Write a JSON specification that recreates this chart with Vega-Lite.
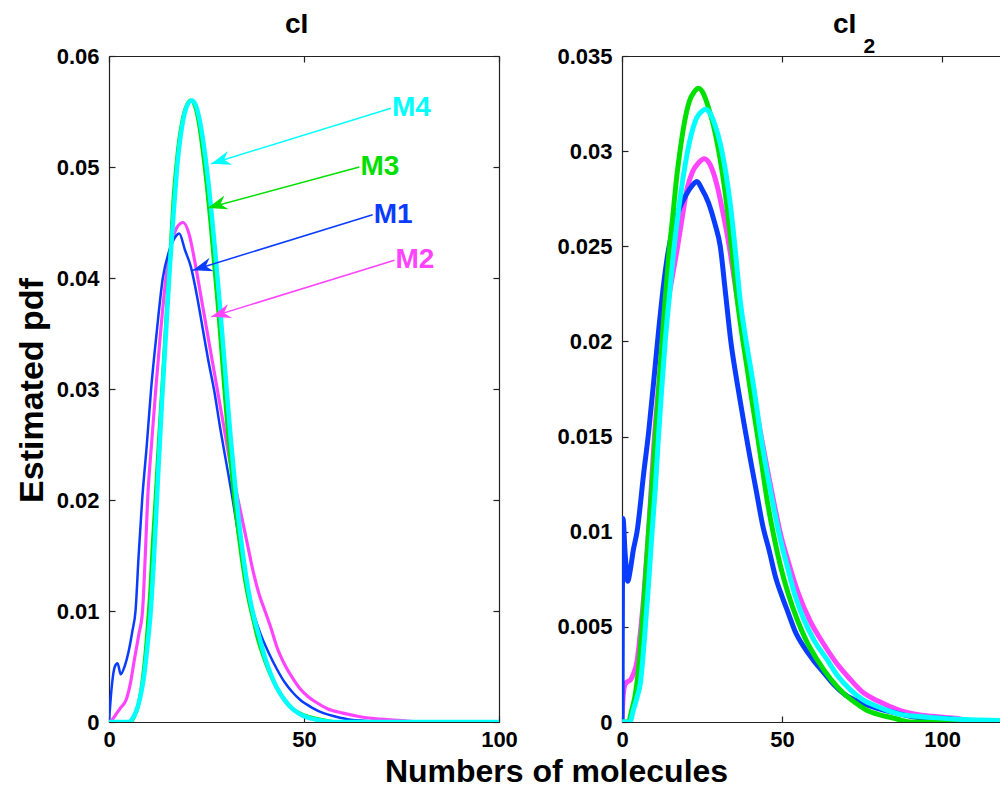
{
  "$schema": "https://vega.github.io/schema/vega-lite/v6.json",
  "background": "white",
  "padding": {"left": 15, "top": 11, "right": 0, "bottom": 0},
  "bounds": "flush",
  "spacing": 123,
  "config": {
    "font": "Liberation Sans",
    "view": {"stroke": null},
    "axis": {"domainColor": "#222", "domainWidth": 1.2, "tickColor": "#222", "tickWidth": 1.2, "tickSize": -6, "labelFont": "Liberation Sans", "labelFontSize": 22, "labelFontWeight": "bold", "labelColor": "#000", "labelPadding": 16, "labelOverlap": false, "labelFlush": false, "grid": false, "titleFont": "Liberation Sans", "titleFontSize": 32, "titleFontWeight": "bold", "titleColor": "#000"},
    "axisBottom": {"labelPadding": 13},
    "title": {"font": "Liberation Sans", "fontSize": 28, "fontWeight": "bold", "color": "#000"}
  },
  "datasets": {
    "cI": [
      {"model":"M2","x":0,"y":0},{"model":"M2","x":1,"y":0.0003},{"model":"M2","x":2,"y":0.0008},{"model":"M2","x":3,"y":0.0013},{"model":"M2","x":4.4,"y":0.002},{"model":"M2","x":5.5,"y":0.0035},{"model":"M2","x":6.5,"y":0.0056},{"model":"M2","x":7.6,"y":0.0078},{"model":"M2","x":8.6,"y":0.01},{"model":"M2","x":9.3,"y":0.015},{"model":"M2","x":9.9,"y":0.02},{"model":"M2","x":10.9,"y":0.025},{"model":"M2","x":12,"y":0.03},{"model":"M2","x":13.2,"y":0.035},{"model":"M2","x":14.6,"y":0.04},{"model":"M2","x":16,"y":0.043},{"model":"M2","x":17.5,"y":0.0446},{"model":"M2","x":19,"y":0.045},{"model":"M2","x":20.5,"y":0.044},{"model":"M2","x":22,"y":0.0415},{"model":"M2","x":23.5,"y":0.0385},{"model":"M2","x":25,"y":0.0355},{"model":"M2","x":26.5,"y":0.0325},{"model":"M2","x":28,"y":0.0295},{"model":"M2","x":29.5,"y":0.0265},{"model":"M2","x":31,"y":0.0235},{"model":"M2","x":32.5,"y":0.021},{"model":"M2","x":34,"y":0.0185},{"model":"M2","x":35.5,"y":0.016},{"model":"M2","x":37,"y":0.0135},{"model":"M2","x":38.5,"y":0.0115},{"model":"M2","x":40,"y":0.01},{"model":"M2","x":41.5,"y":0.0085},{"model":"M2","x":43,"y":0.0068},{"model":"M2","x":45,"y":0.0052},{"model":"M2","x":47,"y":0.004},{"model":"M2","x":49,"y":0.003},{"model":"M2","x":51,"y":0.0023},{"model":"M2","x":53,"y":0.0018},{"model":"M2","x":56,"y":0.0012},{"model":"M2","x":60,"y":0.0008},{"model":"M2","x":64,"y":0.0005},{"model":"M2","x":68,"y":0.0003},{"model":"M2","x":72,"y":0.0002},{"model":"M2","x":76,"y":0.0001},{"model":"M2","x":80,"y":0},{"model":"M2","x":100,"y":0},
      {"model":"M1","x":0,"y":0},{"model":"M1","x":0.3,"y":0.0015},{"model":"M1","x":0.8,"y":0.0035},{"model":"M1","x":1.5,"y":0.005},{"model":"M1","x":2.2,"y":0.0053},{"model":"M1","x":3,"y":0.0043},{"model":"M1","x":4,"y":0.005},{"model":"M1","x":5,"y":0.0063},{"model":"M1","x":6,"y":0.0082},{"model":"M1","x":6.8,"y":0.01},{"model":"M1","x":7.6,"y":0.015},{"model":"M1","x":8.5,"y":0.02},{"model":"M1","x":9.7,"y":0.025},{"model":"M1","x":10.8,"y":0.03},{"model":"M1","x":12.2,"y":0.035},{"model":"M1","x":13.8,"y":0.04},{"model":"M1","x":15.5,"y":0.0425},{"model":"M1","x":17,"y":0.0437},{"model":"M1","x":18,"y":0.044},{"model":"M1","x":19.5,"y":0.0425},{"model":"M1","x":21,"y":0.041},{"model":"M1","x":22.5,"y":0.0385},{"model":"M1","x":24,"y":0.0355},{"model":"M1","x":25.5,"y":0.0325},{"model":"M1","x":27,"y":0.0298},{"model":"M1","x":28.5,"y":0.0265},{"model":"M1","x":30,"y":0.0235},{"model":"M1","x":31.5,"y":0.0205},{"model":"M1","x":33,"y":0.0172},{"model":"M1","x":34.5,"y":0.014},{"model":"M1","x":36,"y":0.0112},{"model":"M1","x":37.5,"y":0.0093},{"model":"M1","x":39,"y":0.0078},{"model":"M1","x":41,"y":0.0062},{"model":"M1","x":43,"y":0.0048},{"model":"M1","x":45,"y":0.0036},{"model":"M1","x":47,"y":0.0027},{"model":"M1","x":49,"y":0.002},{"model":"M1","x":52,"y":0.0013},{"model":"M1","x":55,"y":0.0008},{"model":"M1","x":58,"y":0.0005},{"model":"M1","x":62,"y":0.0002},{"model":"M1","x":66,"y":0.0001},{"model":"M1","x":70,"y":0},{"model":"M1","x":100,"y":0},
      {"model":"M3","x":0,"y":0},{"model":"M3","x":5.5,"y":0},{"model":"M3","x":6.5,"y":0.0005},{"model":"M3","x":7.5,"y":0.0015},{"model":"M3","x":8.5,"y":0.0035},{"model":"M3","x":9.3,"y":0.006},{"model":"M3","x":10,"y":0.009},{"model":"M3","x":10.6,"y":0.012},{"model":"M3","x":11.2,"y":0.016},{"model":"M3","x":11.9,"y":0.02},{"model":"M3","x":12.9,"y":0.026},{"model":"M3","x":13.8,"y":0.031},{"model":"M3","x":14.8,"y":0.037},{"model":"M3","x":15.7,"y":0.042},{"model":"M3","x":16.5,"y":0.047},{"model":"M3","x":17.5,"y":0.051},{"model":"M3","x":18.7,"y":0.054},{"model":"M3","x":20,"y":0.0556},{"model":"M3","x":21,"y":0.056},{"model":"M3","x":22,"y":0.0555},{"model":"M3","x":23,"y":0.054},{"model":"M3","x":24,"y":0.0515},{"model":"M3","x":25,"y":0.0485},{"model":"M3","x":26,"y":0.045},{"model":"M3","x":27,"y":0.041},{"model":"M3","x":28,"y":0.037},{"model":"M3","x":29,"y":0.0325},{"model":"M3","x":30,"y":0.028},{"model":"M3","x":31,"y":0.024},{"model":"M3","x":32,"y":0.0205},{"model":"M3","x":33,"y":0.0175},{"model":"M3","x":34,"y":0.0148},{"model":"M3","x":35,"y":0.0125},{"model":"M3","x":36,"y":0.0107},{"model":"M3","x":37,"y":0.0092},{"model":"M3","x":38,"y":0.0077},{"model":"M3","x":39.5,"y":0.006},{"model":"M3","x":41,"y":0.0046},{"model":"M3","x":43,"y":0.0031},{"model":"M3","x":45,"y":0.002},{"model":"M3","x":47,"y":0.0012},{"model":"M3","x":50,"y":0.0006},{"model":"M3","x":53,"y":0.0003},{"model":"M3","x":56,"y":0.0001},{"model":"M3","x":58,"y":0},{"model":"M3","x":100,"y":0},
      {"model":"M4","x":0,"y":0},{"model":"M4","x":5,"y":0},{"model":"M4","x":6,"y":0.0003},{"model":"M4","x":7,"y":0.001},{"model":"M4","x":8,"y":0.0022},{"model":"M4","x":9,"y":0.0042},{"model":"M4","x":9.9,"y":0.007},{"model":"M4","x":10.7,"y":0.01},{"model":"M4","x":11.4,"y":0.014},{"model":"M4","x":12,"y":0.018},{"model":"M4","x":12.7,"y":0.023},{"model":"M4","x":13.6,"y":0.029},{"model":"M4","x":14.6,"y":0.035},{"model":"M4","x":15.6,"y":0.041},{"model":"M4","x":16.6,"y":0.046},{"model":"M4","x":17.6,"y":0.0505},{"model":"M4","x":18.8,"y":0.0538},{"model":"M4","x":20,"y":0.0555},{"model":"M4","x":21.2,"y":0.056},{"model":"M4","x":22.2,"y":0.0556},{"model":"M4","x":23.2,"y":0.0543},{"model":"M4","x":24.2,"y":0.0522},{"model":"M4","x":25.2,"y":0.0495},{"model":"M4","x":26.2,"y":0.0462},{"model":"M4","x":27.2,"y":0.0425},{"model":"M4","x":28.2,"y":0.0385},{"model":"M4","x":29.2,"y":0.0342},{"model":"M4","x":30.2,"y":0.0298},{"model":"M4","x":31.2,"y":0.0256},{"model":"M4","x":32.2,"y":0.0218},{"model":"M4","x":33.2,"y":0.0184},{"model":"M4","x":34.2,"y":0.0155},{"model":"M4","x":35.2,"y":0.013},{"model":"M4","x":36.2,"y":0.011},{"model":"M4","x":37.2,"y":0.0094},{"model":"M4","x":38.5,"y":0.0077},{"model":"M4","x":40,"y":0.0058},{"model":"M4","x":41.5,"y":0.0043},{"model":"M4","x":43,"y":0.0031},{"model":"M4","x":45,"y":0.002},{"model":"M4","x":47,"y":0.0012},{"model":"M4","x":49,"y":0.0007},{"model":"M4","x":52,"y":0.0003},{"model":"M4","x":55,"y":0.0001},{"model":"M4","x":58,"y":0},{"model":"M4","x":100,"y":0}
    ],
    "cI2": [
      {"model":"M2","x":0,"y":0},{"model":"M2","x":0.3,"y":0.0012},{"model":"M2","x":0.8,"y":0.0019},{"model":"M2","x":1.5,"y":0.0021},{"model":"M2","x":2.6,"y":0.0022},{"model":"M2","x":3.5,"y":0.0025},{"model":"M2","x":4.7,"y":0.0032},{"model":"M2","x":5.8,"y":0.0048},{"model":"M2","x":6.75,"y":0.0065},{"model":"M2","x":7.5,"y":0.0082},{"model":"M2","x":8.3,"y":0.01},{"model":"M2","x":9.1,"y":0.0122},{"model":"M2","x":9.9,"y":0.0144},{"model":"M2","x":11,"y":0.0168},{"model":"M2","x":12.3,"y":0.0192},{"model":"M2","x":13.7,"y":0.0213},{"model":"M2","x":15.3,"y":0.023},{"model":"M2","x":17.2,"y":0.0248},{"model":"M2","x":18.8,"y":0.0265},{"model":"M2","x":20.3,"y":0.028},{"model":"M2","x":22,"y":0.0289},{"model":"M2","x":24,"y":0.0294},{"model":"M2","x":25.7,"y":0.0296},{"model":"M2","x":27.5,"y":0.0293},{"model":"M2","x":29.7,"y":0.0282},{"model":"M2","x":31.5,"y":0.0268},{"model":"M2","x":33.5,"y":0.025},{"model":"M2","x":35.5,"y":0.0228},{"model":"M2","x":37.5,"y":0.0207},{"model":"M2","x":39.5,"y":0.0188},{"model":"M2","x":41.5,"y":0.0169},{"model":"M2","x":43.5,"y":0.015},{"model":"M2","x":45.5,"y":0.0132},{"model":"M2","x":47.5,"y":0.0115},{"model":"M2","x":49.5,"y":0.0099},{"model":"M2","x":52,"y":0.0084},{"model":"M2","x":55,"y":0.0068},{"model":"M2","x":58.8,"y":0.0053},{"model":"M2","x":63,"y":0.0041},{"model":"M2","x":67,"y":0.0031},{"model":"M2","x":71,"y":0.0023},{"model":"M2","x":75,"y":0.0016},{"model":"M2","x":80,"y":0.0011},{"model":"M2","x":87,"y":0.0006},{"model":"M2","x":92,"y":0.0004},{"model":"M2","x":97,"y":0.0003},{"model":"M2","x":102,"y":0.00022},{"model":"M2","x":105,"y":0.00018},{"model":"M2","x":108,"y":0},
      {"model":"M1","x":0,"y":0},{"model":"M1","x":0.3,"y":0.0107},{"model":"M1","x":1,"y":0.0088},{"model":"M1","x":1.8,"y":0.0074},{"model":"M1","x":2.6,"y":0.008},{"model":"M1","x":3.5,"y":0.009},{"model":"M1","x":4.7,"y":0.01},{"model":"M1","x":6.8,"y":0.0131},{"model":"M1","x":8.3,"y":0.0152},{"model":"M1","x":9.9,"y":0.0179},{"model":"M1","x":11.4,"y":0.0205},{"model":"M1","x":13,"y":0.023},{"model":"M1","x":14.5,"y":0.0248},{"model":"M1","x":16,"y":0.026},{"model":"M1","x":18,"y":0.027},{"model":"M1","x":20,"y":0.0277},{"model":"M1","x":22,"y":0.0282},{"model":"M1","x":23.4,"y":0.0284},{"model":"M1","x":25,"y":0.028},{"model":"M1","x":27,"y":0.0273},{"model":"M1","x":29,"y":0.0262},{"model":"M1","x":30.7,"y":0.025},{"model":"M1","x":32.3,"y":0.0226},{"model":"M1","x":34,"y":0.02},{"model":"M1","x":36,"y":0.0178},{"model":"M1","x":38,"y":0.0158},{"model":"M1","x":40,"y":0.0139},{"model":"M1","x":42,"y":0.0121},{"model":"M1","x":44,"y":0.0103},{"model":"M1","x":46,"y":0.009},{"model":"M1","x":48,"y":0.0076},{"model":"M1","x":50,"y":0.0066},{"model":"M1","x":52,"y":0.0057},{"model":"M1","x":54,"y":0.0048},{"model":"M1","x":57,"y":0.0039},{"model":"M1","x":60,"y":0.0032},{"model":"M1","x":63,"y":0.0026},{"model":"M1","x":66,"y":0.002},{"model":"M1","x":70,"y":0.0014},{"model":"M1","x":75,"y":0.001},{"model":"M1","x":80,"y":0.0007},{"model":"M1","x":85,"y":0.0005},{"model":"M1","x":90,"y":0.0003},{"model":"M1","x":95,"y":0.0002},{"model":"M1","x":100,"y":0.0002},{"model":"M1","x":105,"y":0.0001},{"model":"M1","x":107,"y":0},
      {"model":"M3","x":0,"y":0},{"model":"M3","x":2,"y":0},{"model":"M3","x":3,"y":0.0006},{"model":"M3","x":4,"y":0.0013},{"model":"M3","x":4.7,"y":0.0021},{"model":"M3","x":5.5,"y":0.0034},{"model":"M3","x":6.25,"y":0.005},{"model":"M3","x":7.3,"y":0.0075},{"model":"M3","x":8.3,"y":0.01},{"model":"M3","x":9.4,"y":0.0125},{"model":"M3","x":10.4,"y":0.015},{"model":"M3","x":11.5,"y":0.0175},{"model":"M3","x":12.5,"y":0.02},{"model":"M3","x":13.5,"y":0.0222},{"model":"M3","x":14.6,"y":0.0245},{"model":"M3","x":16,"y":0.0268},{"model":"M3","x":17,"y":0.0285},{"model":"M3","x":18.2,"y":0.0301},{"model":"M3","x":19.5,"y":0.0315},{"model":"M3","x":21,"y":0.0326},{"model":"M3","x":22.5,"y":0.0331},{"model":"M3","x":23.9,"y":0.0333},{"model":"M3","x":25.5,"y":0.033},{"model":"M3","x":27,"y":0.0323},{"model":"M3","x":28.5,"y":0.0314},{"model":"M3","x":30,"y":0.0302},{"model":"M3","x":31.5,"y":0.0287},{"model":"M3","x":33,"y":0.0268},{"model":"M3","x":34.5,"y":0.0245},{"model":"M3","x":36,"y":0.0222},{"model":"M3","x":37.8,"y":0.02},{"model":"M3","x":39,"y":0.0187},{"model":"M3","x":40.5,"y":0.017},{"model":"M3","x":42.2,"y":0.0152},{"model":"M3","x":43.8,"y":0.0134},{"model":"M3","x":45.3,"y":0.0117},{"model":"M3","x":47.4,"y":0.0098},{"model":"M3","x":49.5,"y":0.0082},{"model":"M3","x":52,"y":0.0067},{"model":"M3","x":54.7,"y":0.0054},{"model":"M3","x":57.5,"y":0.0043},{"model":"M3","x":60.9,"y":0.0033},{"model":"M3","x":65,"y":0.0023},{"model":"M3","x":69.3,"y":0.0015},{"model":"M3","x":73,"y":0.001},{"model":"M3","x":76.6,"y":0.0006},{"model":"M3","x":80,"y":0.0004},{"model":"M3","x":85,"y":0.0002},{"model":"M3","x":90,"y":0},{"model":"M3","x":120,"y":0},
      {"model":"M4","x":0,"y":0},{"model":"M4","x":2.5,"y":0},{"model":"M4","x":3.5,"y":0.0006},{"model":"M4","x":4.7,"y":0.0013},{"model":"M4","x":5.7,"y":0.002},{"model":"M4","x":6.5,"y":0.0033},{"model":"M4","x":7.3,"y":0.005},{"model":"M4","x":8.4,"y":0.0075},{"model":"M4","x":9.4,"y":0.01},{"model":"M4","x":10.5,"y":0.0125},{"model":"M4","x":11.4,"y":0.015},{"model":"M4","x":12.4,"y":0.0175},{"model":"M4","x":13.5,"y":0.02},{"model":"M4","x":14.7,"y":0.0222},{"model":"M4","x":16,"y":0.0245},{"model":"M4","x":17.5,"y":0.0267},{"model":"M4","x":19,"y":0.0285},{"model":"M4","x":20.5,"y":0.03},{"model":"M4","x":22,"y":0.0311},{"model":"M4","x":23.5,"y":0.0318},{"model":"M4","x":25,"y":0.0321},{"model":"M4","x":26,"y":0.0322},{"model":"M4","x":27.5,"y":0.032},{"model":"M4","x":29,"y":0.0314},{"model":"M4","x":30.7,"y":0.0304},{"model":"M4","x":32.3,"y":0.029},{"model":"M4","x":34,"y":0.027},{"model":"M4","x":35.5,"y":0.0246},{"model":"M4","x":36.9,"y":0.0222},{"model":"M4","x":38.5,"y":0.0203},{"model":"M4","x":40.1,"y":0.0187},{"model":"M4","x":41.7,"y":0.017},{"model":"M4","x":43.2,"y":0.0152},{"model":"M4","x":45,"y":0.0134},{"model":"M4","x":46.9,"y":0.0117},{"model":"M4","x":49.2,"y":0.0098},{"model":"M4","x":51.6,"y":0.0082},{"model":"M4","x":54,"y":0.0067},{"model":"M4","x":56.8,"y":0.0054},{"model":"M4","x":60,"y":0.0043},{"model":"M4","x":64,"y":0.0033},{"model":"M4","x":67.5,"y":0.0024},{"model":"M4","x":71.3,"y":0.0017},{"model":"M4","x":75,"y":0.0012},{"model":"M4","x":80,"y":0.0008},{"model":"M4","x":87,"y":0.0004},{"model":"M4","x":92,"y":0.0003},{"model":"M4","x":97,"y":0.00023},{"model":"M4","x":105,"y":0.00015},{"model":"M4","x":112,"y":0.0001},{"model":"M4","x":120,"y":0.00008}
    ],
    "ann": [
      {"model":"M4","x":72.3,"y":0.0553,"tx":26.2,"ty":0.0503},
      {"model":"M3","x":64.2,"y":0.05,"tx":25.3,"ty":0.0463},
      {"model":"M1","x":67.6,"y":0.0457,"tx":21.5,"ty":0.0407},
      {"model":"M2","x":73.2,"y":0.0416,"tx":26.2,"ty":0.0365}
    ]
  },
  "hconcat": [
    {
      "width": 390,
      "height": 666,
      "title": {"text": "cI", "anchor": "start", "frame": "group", "dx": 176, "offset": -16, "baseline": "alphabetic"},
      "resolve": {"axis": {"x": "independent", "y": "independent"}},
      "layer": [
        {
          "data": {"name": "cI"},
          "mark": {"type": "line", "interpolate": "monotone", "clip": true, "strokeCap": "round", "strokeJoin": "round"},
          "encoding": {
            "x": {"field": "x", "type": "quantitative", "scale": {"domain": [0, 100], "nice": false, "zero": false},
                  "axis": {"orient": "bottom", "values": [0, 50, 100], "title": "Numbers of molecules", "titleX": 447, "titleY": 59, "titleBaseline": "alphabetic", "titleAlign": "center"}},
            "y": {"field": "y", "type": "quantitative", "scale": {"domain": [0, 0.06], "nice": false, "zero": false},
                  "axis": {"orient": "left", "values": [0, 0.01, 0.02, 0.03, 0.04, 0.05, 0.06], "format": "~g", "title": "Estimated pdf", "titleFontSize": 34, "titleX": -77, "titleY": 334, "titleBaseline": "middle", "titleAlign": "center", "titleAngle": -90}},
            "color": {"field": "model", "type": "nominal", "scale": {"domain": ["M1", "M2", "M3", "M4"], "range": ["#0a3cff", "#ff44ff", "#00e000", "#00ffff"]}, "legend": null},
            "strokeWidth": {"field": "model", "type": "nominal", "scale": {"domain": ["M1", "M2", "M3", "M4"], "range": [2.5, 4.5, 4, 5]}, "legend": null}
          }
        },
        {
          "data": {"name": "cI"},
          "mark": {"type": "point", "opacity": 0},
          "encoding": {
            "x": {"field": "x", "type": "quantitative", "scale": {"domain": [0, 100], "nice": false, "zero": false},
                  "axis": {"orient": "top", "values": [0, 50, 100], "labels": false, "title": null}},
            "y": {"field": "y", "type": "quantitative", "scale": {"domain": [0, 0.06], "nice": false, "zero": false},
                  "axis": {"orient": "right", "values": [0, 0.01, 0.02, 0.03, 0.04, 0.05, 0.06], "labels": false, "title": null}}
          }
        },
        {
          "data": {"name": "ann"},
          "mark": {"type": "rule", "strokeWidth": 1.5},
          "encoding": {
            "x": {"field": "x", "type": "quantitative", "scale": {"domain": [0, 100], "nice": false, "zero": false}, "axis": null},
            "y": {"field": "y", "type": "quantitative", "scale": {"domain": [0, 0.06], "nice": false, "zero": false}, "axis": null},
            "x2": {"field": "tx"},
            "y2": {"field": "ty"},
            "color": {"field": "model", "type": "nominal", "scale": {"domain": ["M1", "M2", "M3", "M4"], "range": ["#0a3cff", "#ff44ff", "#00e000", "#00ffff"]}, "legend": null}
          }
        },
        {
          "data": {"name": "ann"},
          "mark": {"type": "point", "shape": "M0,0L2.2,-0.8L1.5,0L2.2,0.8Z", "filled": true, "size": 320, "angle": 343, "opacity": 1, "strokeWidth": 0},
          "encoding": {
            "x": {"field": "tx", "type": "quantitative", "scale": {"domain": [0, 100], "nice": false, "zero": false}, "axis": null},
            "y": {"field": "ty", "type": "quantitative", "scale": {"domain": [0, 0.06], "nice": false, "zero": false}, "axis": null},
            "color": {"field": "model", "type": "nominal", "scale": {"domain": ["M1", "M2", "M3", "M4"], "range": ["#0a3cff", "#ff44ff", "#00e000", "#00ffff"]}, "legend": null}
          }
        },
        {
          "data": {"name": "ann"},
          "mark": {"type": "text", "align": "left", "baseline": "middle", "fontSize": 28, "fontWeight": "bold", "font": "Liberation Sans", "dx": 1},
          "encoding": {
            "x": {"field": "x", "type": "quantitative", "scale": {"domain": [0, 100], "nice": false, "zero": false}, "axis": null},
            "y": {"field": "y", "type": "quantitative", "scale": {"domain": [0, 0.06], "nice": false, "zero": false}, "axis": null},
            "text": {"field": "model"},
            "color": {"field": "model", "type": "nominal", "scale": {"domain": ["M1", "M2", "M3", "M4"], "range": ["#0a3cff", "#ff44ff", "#00e000", "#00ffff"]}, "legend": null}
          }
        }
      ]
    },
    {
      "width": 378,
      "height": 666,
      "title": {"text": "cI", "anchor": "start", "frame": "group", "dx": 211, "offset": -26, "baseline": "alphabetic"},
      "resolve": {"axis": {"x": "independent", "y": "independent"}},
      "layer": [
        {
          "data": {"name": "cI2"},
          "mark": {"type": "line", "interpolate": "monotone", "clip": true, "strokeWidth": 5, "strokeCap": "round", "strokeJoin": "round"},
          "encoding": {
            "x": {"field": "x", "type": "quantitative", "scale": {"domain": [0, 118.1], "nice": false, "zero": false},
                  "axis": {"orient": "bottom", "values": [0, 50, 100], "title": null}},
            "y": {"field": "y", "type": "quantitative", "scale": {"domain": [0, 0.035], "nice": false, "zero": false},
                  "axis": {"orient": "left", "values": [0, 0.005, 0.01, 0.015, 0.02, 0.025, 0.03, 0.035], "format": "~g", "title": null}},
            "color": {"field": "model", "type": "nominal", "scale": {"domain": ["M1", "M2", "M3", "M4"], "range": ["#0a3cff", "#ff44ff", "#00e000", "#00ffff"]}, "legend": null}
          }
        },
        {
          "data": {"name": "cI2"},
          "mark": {"type": "point", "opacity": 0},
          "encoding": {
            "x": {"field": "x", "type": "quantitative", "scale": {"domain": [0, 118.1], "nice": false, "zero": false},
                  "axis": {"orient": "top", "values": [0, 50, 100], "labels": false, "title": "2", "titleX": 241, "titleY": -4, "titleAlign": "left", "titleBaseline": "alphabetic", "titleAngle": 0, "titleFontSize": 21}},
            "y": {"field": "y", "type": "quantitative", "scale": {"domain": [0, 0.035], "nice": false, "zero": false}, "axis": null}
          }
        }
      ]
    }
  ]
}
